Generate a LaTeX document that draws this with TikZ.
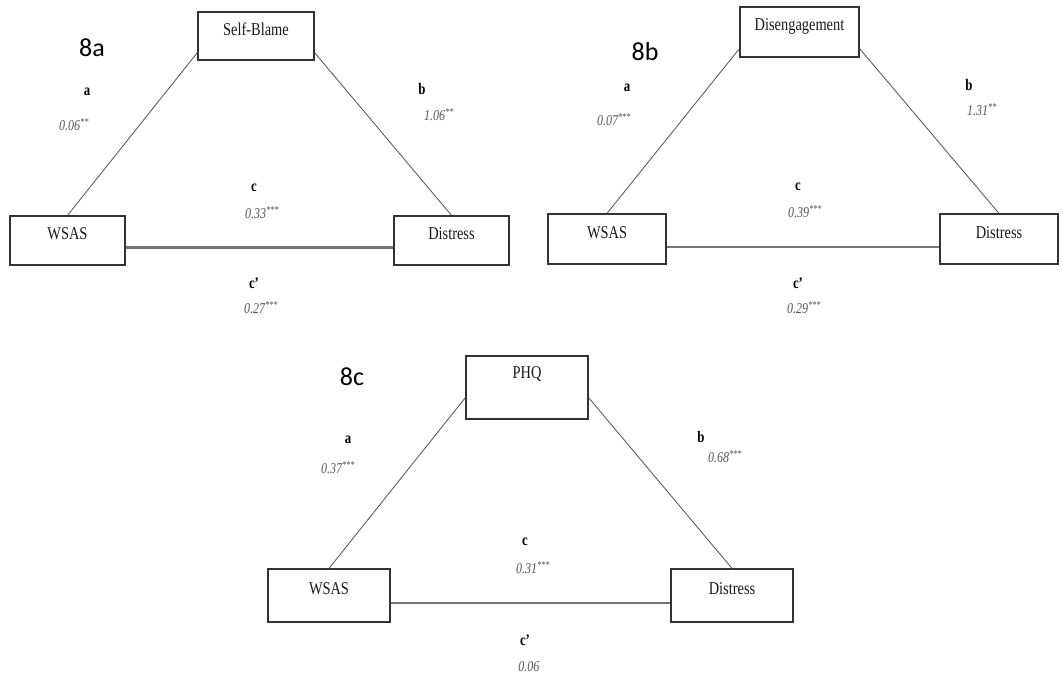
\documentclass[tikz,border=0pt]{standalone}
\usepackage{fontspec}
\setmainfont{Liberation Serif}
\newfontfamily\tagfont{Carlito}
\definecolor{boxline}{HTML}{333333}
\definecolor{pathline}{HTML}{505050}
\definecolor{directline}{HTML}{747474}
\definecolor{coefgray}{HTML}{555555}
% condensed text, as set in the figure
\newcommand\nar[1]{\scalebox{0.8}[1]{#1}}
\newcommand\est[2]{\nar{\itshape #1\textsuperscript{#2}}}
\begin{document}
\begin{tikzpicture}[x=1pt,y=-1pt,
  varbox/.style={draw=boxline, line width=1.2pt, fill=white, inner sep=0pt,
    font=\fontsize{18}{21}\selectfont, text=black!90, text height=12pt, text depth=14pt},
  pathedge/.style={draw=pathline, line width=0.8pt},
  directedge/.style={draw=directline, line width=2.2pt},
  letter/.style={inner sep=0pt, font=\fontsize{16}{19}\selectfont\bfseries},
  coef/.style={inner sep=0pt, text=coefgray, font=\fontsize{15}{18}\selectfont},
  paneltag/.style={inner sep=0pt, font=\tagfont\fontsize{26}{30}\selectfont}]
\useasboundingbox (0,0) rectangle (1063,675);

% ---------------- 8a ----------------
\node[paneltag] (tagA) at (92,48) {8a};
\node[varbox, minimum width=116pt, minimum height=48pt] (medA) at (256,36) {\nar{Self-Blame}};
\node[varbox, minimum width=115pt, minimum height=49pt] (wsA) at (67.5,240.5) {\nar{WSAS}};
\node[varbox, minimum width=115pt, minimum height=49pt] (diA) at (451.5,240.5) {\nar{Distress}};
\draw[pathedge] (wsA.north) -- ([yshift=8pt]medA.south west);
\draw[pathedge] ([yshift=8pt]medA.south east) -- (diA.north);
\draw[directedge] ([yshift=-7pt]wsA.east) -- ([yshift=-7pt]diA.west);
\node[letter] (laA) at (87,92) {\nar{a}};
\node[coef] (caA) at (74,125) {\est{0.06}{**}};
\node[letter] (lbA) at (422,89) {\nar{b}};
\node[coef] (cbA) at (439,115) {\est{1.06}{**}};
\node[letter] (lcA) at (254,188) {\nar{c}};
\node[coef] (ccA) at (262,213) {\est{0.33}{***}};
\node[letter] (ldA) at (254,283) {\nar{c’}};
\node[coef] (cdA) at (261,308) {\est{0.27}{***}};

% ---------------- 8b ----------------
\node[paneltag] (tagB) at (645,52) {8b};
\node[varbox, minimum width=119pt, minimum height=50pt, text depth=16pt] (medB) at (799.5,32) {\nar{Disengagement}};
\node[varbox, minimum width=118pt, minimum height=50pt] (wsB) at (607,239) {\nar{WSAS}};
\node[varbox, minimum width=118pt, minimum height=50pt] (diB) at (999,239) {\nar{Distress}};
\draw[pathedge] (wsB.north) -- ([yshift=9pt]medB.south west);
\draw[pathedge] ([yshift=9pt]medB.south east) -- (diB.north);
\draw[directedge] ([yshift=-8pt]wsB.east) -- ([yshift=-8pt]diB.west);
\node[letter] (laB) at (627,88) {\nar{a}};
\node[coef] (caB) at (614,120) {\est{0.07}{***}};
\node[letter] (lbB) at (969,85) {\nar{b}};
\node[coef] (cbB) at (982,110) {\est{1.31}{**}};
\node[letter] (lcB) at (798,187) {\nar{c}};
\node[coef] (ccB) at (805,212) {\est{0.39}{***}};
\node[letter] (ldB) at (798,283) {\nar{c’}};
\node[coef] (cdB) at (804,308) {\est{0.29}{***}};

% ---------------- 8c ----------------
\node[paneltag] (tagC) at (352,377) {8c};
\node[varbox, minimum width=122pt, minimum height=63pt, text depth=31pt] (medC) at (527,387.5) {\nar{PHQ}};
\node[varbox, minimum width=122pt, minimum height=53pt] (wsC) at (329,595.5) {\nar{WSAS}};
\node[varbox, minimum width=122pt, minimum height=53pt] (diC) at (732,595.5) {\nar{Distress}};
\draw[pathedge] (wsC.north) -- ([yshift=22pt]medC.south west);
\draw[pathedge] ([yshift=22pt]medC.south east) -- (diC.north);
\draw[directedge] ([yshift=-7.5pt]wsC.east) -- ([yshift=-7.5pt]diC.west);
\node[letter] (laC) at (348,440) {\nar{a}};
\node[coef] (caC) at (338,468) {\est{0.37}{***}};
\node[letter] (lbC) at (701,437) {\nar{b}};
\node[coef] (cbC) at (725,457) {\est{0.68}{***}};
\node[letter] (lcC) at (525,542) {\nar{c}};
\node[coef] (ccC) at (533,568) {\est{0.31}{***}};
\node[letter] (ldC) at (525,640) {\nar{c’}};
\node[coef] (cdC) at (529,667) {\est{0.06}{}};
\end{tikzpicture}
\end{document}
